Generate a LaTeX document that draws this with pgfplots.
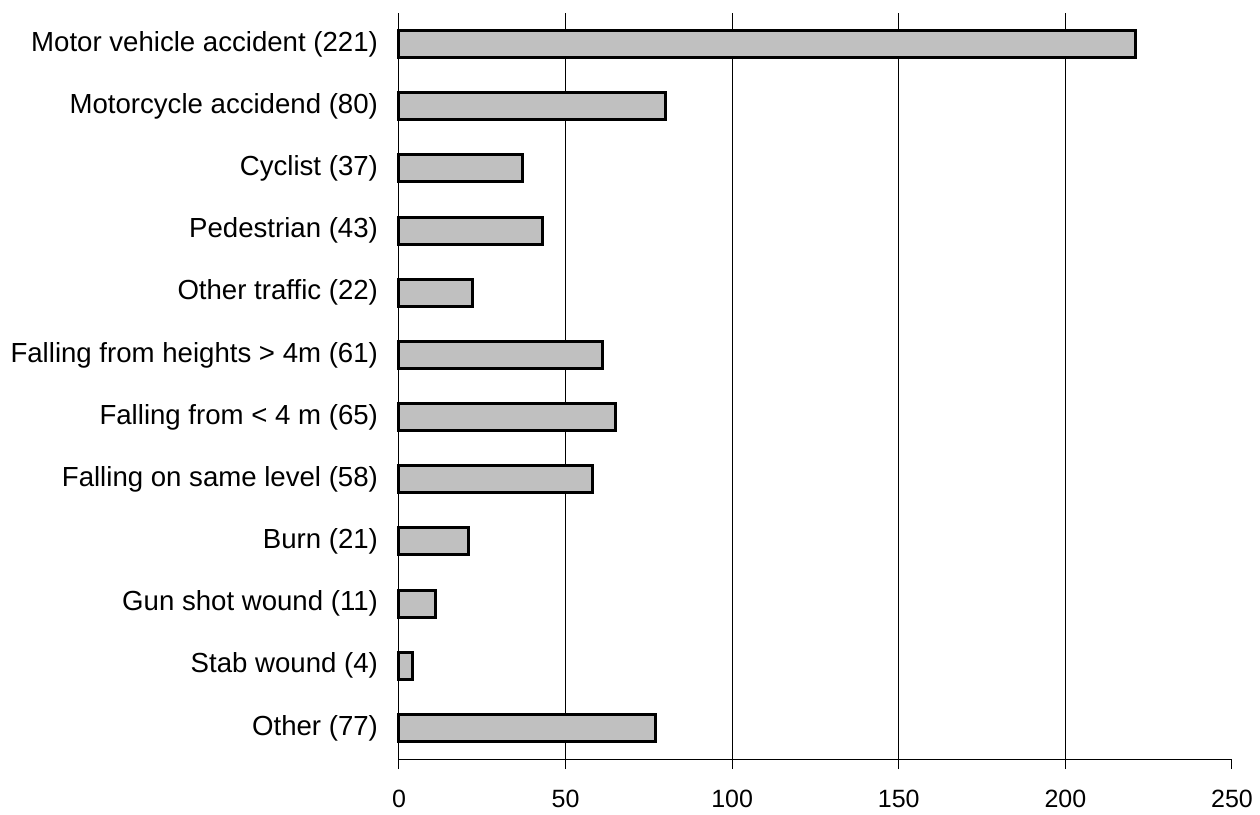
\documentclass[border=0pt]{standalone}
\usepackage{fontspec}
\setmainfont{Liberation Sans}
\usepackage{pgfplots}
\pgfplotsset{compat=1.18}

\definecolor{barfill}{HTML}{C0C0C0}

\begin{document}
\begin{tikzpicture}
  \begin{axis}[
      scale only axis,
      width=416.5pt, height=373pt,
      xbar, bar width=13.5pt, bar shift=0pt,
      xmin=0, xmax=250,
      ymin=-0.5, ymax=11.5,
      y dir=reverse,
      axis lines*=left,
      axis line style={line width=0.5pt, black},
      xtick={0,50,100,150,200},
      extra x ticks={250},
      extra x tick style={grid=none},
      xtick align=outside,
      major tick length=5pt,
      xtick style={line width=0.5pt, black},
      xmajorgrids,
      grid style={line width=0.5pt, black},
      ytick={0,...,11},
      ytick style={draw=none},
      yticklabels={
        Motor vehicle accident (221),
        Motorcycle accidend (80),
        Cyclist (37),
        Pedestrian (43),
        Other traffic (22),
        Falling from heights > 4m (61),
        Falling from < 4 m (65),
        Falling on same level (58),
        Burn (21),
        Gun shot wound (11),
        Stab wound (4),
        Other (77)},
      yticklabel style={font=\fontsize{13.8}{16}\selectfont, xshift=-2pt},
      xticklabel style={font=\fontsize{12.5}{14}\selectfont, yshift=-7pt},
      /pgf/number format/assume math mode=true,
      clip=false,
    ]
    \addplot[fill=barfill, draw=black, line width=1.5pt] coordinates {
      (221,0) (80,1) (37,2) (43,3) (22,4) (61,5)
      (65,6) (58,7) (21,8) (11,9) (4,10) (77,11)
    };
  \end{axis}
  \path (current axis.south west) ++(-199.5pt,-25pt) rectangle ++(630pt,404.5pt);
\end{tikzpicture}
\end{document}
